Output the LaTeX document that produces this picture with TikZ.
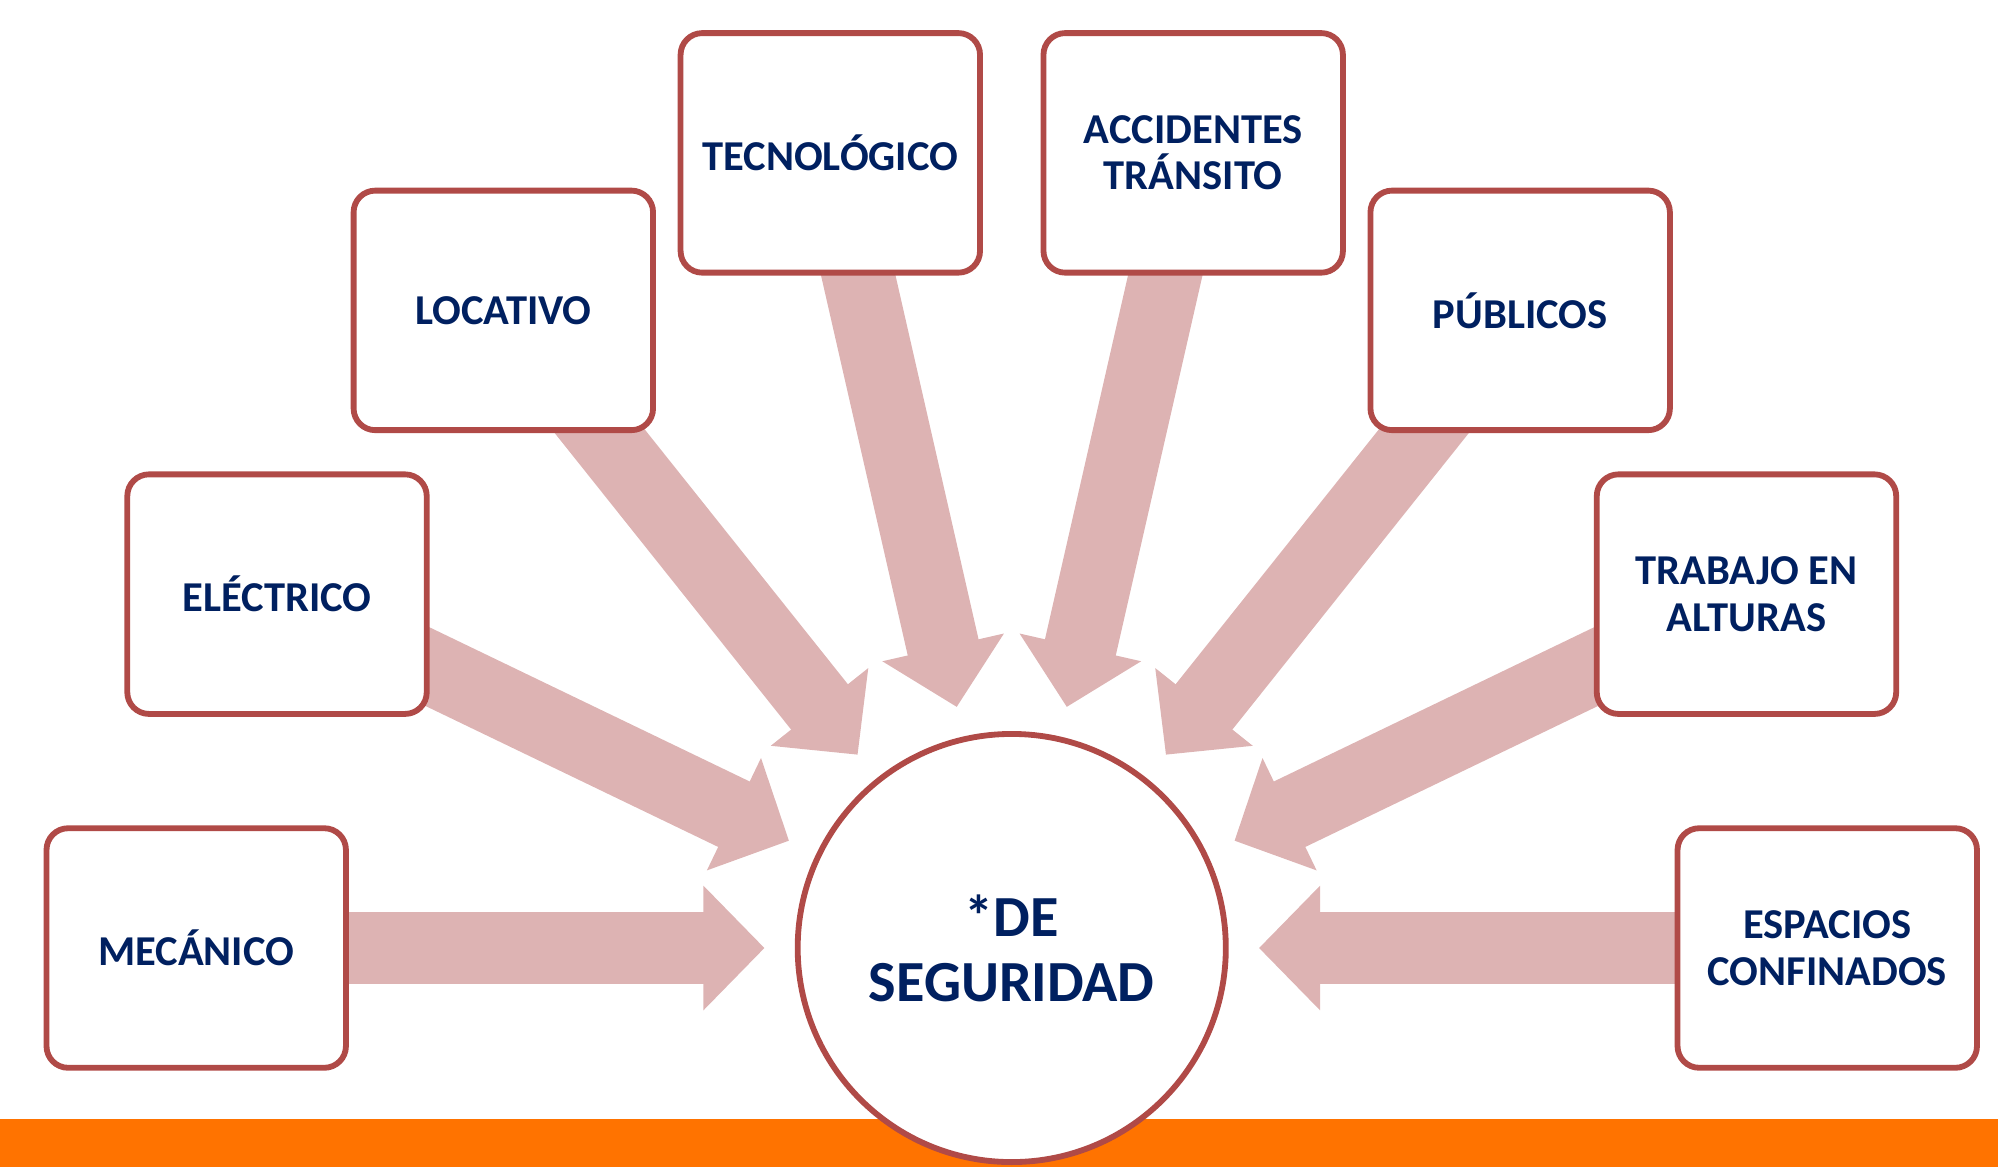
\documentclass[tikz,border=0pt]{standalone}
\usepackage{fontspec}
\setmainfont{Carlito}
\usetikzlibrary{arrows.meta,calc,backgrounds}
\definecolor{boxred}{HTML}{B04A47}
\definecolor{flowpink}{HTML}{DDB3B3}
\definecolor{navy}{HTML}{002060}
\definecolor{barorange}{HTML}{FF7300}

\begin{document}
\begin{tikzpicture}[
  box/.style={draw=boxred, line width=1.3pt, fill=white, rounded corners=0.17cm,
    minimum width=2.35cm, minimum height=1.88cm, inner sep=0pt, align=center,
    text=navy, font=\bfseries\fontsize{9.5}{10.4}\selectfont},
  hub/.style={circle, draw=boxred, line width=1.3pt, fill=white, minimum size=3.36cm,
    inner sep=0pt, align=center, text=navy, font=\bfseries\fontsize{13}{14.5}\selectfont},
  flow/.style={draw=flowpink, line width=0.57cm, -{Triangle[length=0.48cm, width=0.95cm]}}]

\useasboundingbox (0,0) rectangle (15.68,9.16);

\node[hub] (seg) at (7.94, 1.72) {*DE\\SEGURIDAD}; % centre

\node[box] (mec) at (1.54, 1.72) {MEC\'ANICO}; % 180
\node[box] (elec) at (2.174, 4.497) {EL\'ECTRICO}; % 154.3
\node[box] (loc) at (3.950, 6.724) {LOCATIVO}; % 128.6
\node[box] (tec) at (6.516, 7.960) {TECNOL\'OGICO}; % 102.9
\node[box] (acc) at (9.364, 7.960) {ACCIDENTES\\TR\'ANSITO}; % 77.1
\node[box] (pub) at (11.930, 6.724) {P\'UBLICOS}; % 51.4
\node[box] (alt) at (13.706, 4.497) {TRABAJO EN\\ALTURAS}; % 25.7
\node[box] (esp) at (14.34, 1.72) {ESPACIOS\\CONFINADOS}; % 0

\begin{pgfonlayer}{background}
\fill[barorange] (0,0) rectangle (15.68,0.38); % bottom bar
\draw[flow] (mec.center) -- ($(seg.center)!1.94cm!(mec.center)$);
\draw[flow] (elec.center) -- ($(seg.center)!1.94cm!(elec.center)$);
\draw[flow] (loc.center) -- ($(seg.center)!1.94cm!(loc.center)$);
\draw[flow] (tec.center) -- ($(seg.center)!1.94cm!(tec.center)$);
\draw[flow] (acc.center) -- ($(seg.center)!1.94cm!(acc.center)$);
\draw[flow] (pub.center) -- ($(seg.center)!1.94cm!(pub.center)$);
\draw[flow] (alt.center) -- ($(seg.center)!1.94cm!(alt.center)$);
\draw[flow] (esp.center) -- ($(seg.center)!1.94cm!(esp.center)$);
\end{pgfonlayer}

\end{tikzpicture}
\end{document}
